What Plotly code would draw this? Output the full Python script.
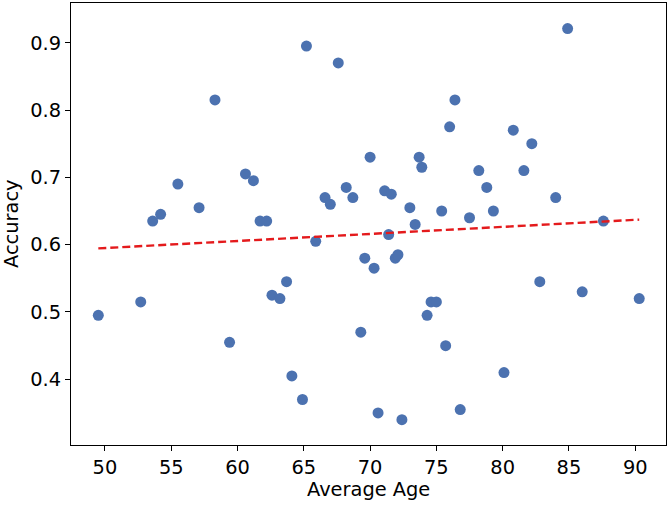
import numpy as np
import plotly.graph_objects as go

avg_age = [49.5, 52.7, 53.6, 54.2, 55.5, 57.1, 58.3, 59.4, 60.6, 61.2,
           61.7, 62.2, 62.6, 63.2, 63.7, 64.1, 64.9, 65.2, 65.9, 66.6,
           67.0, 67.6, 68.2, 68.7, 69.3, 69.6, 70.0, 70.3, 70.6, 71.1,
           71.4, 71.6, 71.9, 72.1, 72.4, 73.0, 73.4, 73.7, 73.9, 74.3,
           74.6, 75.0, 75.4, 75.7, 76.0, 76.4, 76.8, 77.5, 78.2, 78.8,
           79.3, 80.1, 80.8, 81.6, 82.2, 82.8, 84.0, 84.9, 86.0, 87.6, 90.3]
accuracy = [0.495, 0.515, 0.635, 0.645, 0.69, 0.655, 0.815, 0.455, 0.705, 0.695,
            0.635, 0.635, 0.525, 0.52, 0.545, 0.405, 0.37, 0.895, 0.605, 0.67,
            0.66, 0.87, 0.685, 0.67, 0.47, 0.58, 0.73, 0.565, 0.35, 0.68,
            0.615, 0.675, 0.58, 0.585, 0.34, 0.655, 0.63, 0.73, 0.715, 0.495,
            0.515, 0.515, 0.65, 0.45, 0.775, 0.815, 0.355, 0.64, 0.71, 0.685,
            0.65, 0.41, 0.77, 0.71, 0.75, 0.545, 0.67, 0.921, 0.53, 0.635, 0.52]

x_ticks = [50, 55, 60, 65, 70, 75, 80, 85, 90]
y_ticks = [0.4, 0.5, 0.6, 0.7, 0.8, 0.9]
x_range = [47.44, 92.32]
y_range = [0.3024, 0.959]
x_title = "Average Age"
y_title = "Accuracy"

x = np.array(avg_age)
y = np.array(accuracy)
slope, intercept = np.polyfit(x, y, 1)
fit_x = np.array([x.min(), x.max()])
fit_y = slope * fit_x + intercept

FONT = "DejaVu Sans"
FS = 19.4

fig = go.Figure()
fig.add_trace(go.Scatter(x=avg_age, y=accuracy, mode="markers",
                         marker=dict(color="#4c72b0", size=11, line=dict(width=0)),
                         showlegend=False))
fig.add_trace(go.Scatter(x=fit_x, y=fit_y, mode="lines",
                         line=dict(color="#e41a1c", width=2.4, dash="8px,4px"),
                         showlegend=False))

axis_common = dict(showline=True, linecolor="black", linewidth=1.1, mirror=True,
                   ticks="outside", ticklen=5, tickwidth=1.1, tickcolor="black",
                   showgrid=False, zeroline=False,
                   tickfont=dict(family=FONT, size=FS, color="black"))
fig.update_layout(
    width=669, height=505,
    margin=dict(l=71, r=3, t=3, b=60),
    paper_bgcolor="white", plot_bgcolor="white",
    xaxis=dict(tickvals=x_ticks, range=x_range, **axis_common),
    yaxis=dict(tickvals=y_ticks, tickformat=".1f", range=y_range, **axis_common),
    annotations=[
        dict(text=x_title, xref="paper", yref="paper", x=0.5, y=0,
             xanchor="center", yanchor="middle", yshift=-44, showarrow=False,
             font=dict(family=FONT, size=FS, color="black")),
        dict(text=y_title, xref="paper", yref="paper", x=0, y=0.5,
             xanchor="center", yanchor="middle", xshift=-60, textangle=-90,
             showarrow=False, font=dict(family=FONT, size=FS, color="black")),
    ],
)
fig.write_html("out.html",
               config={"displayModeBar": False},
               post_script="document.body.style.margin='0';document.body.style.overflow='hidden';")
